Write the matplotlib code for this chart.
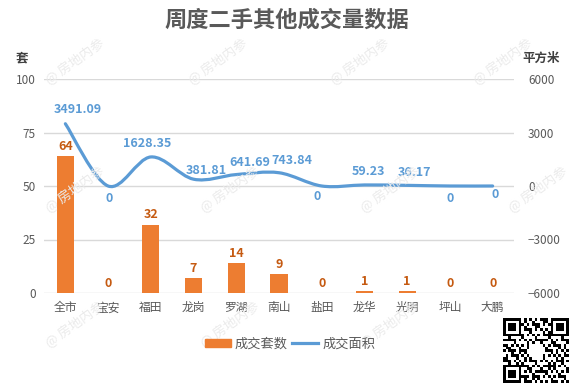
import numpy as np
import matplotlib
matplotlib.use('Agg')
import matplotlib.pyplot as plt
from matplotlib.path import Path
from matplotlib.patches import PathPatch, Patch
from matplotlib.lines import Line2D

plt.rcParams['font.family'] = ['Noto Sans CJK SC', 'DejaVu Sans']

# данные
districts = ['全市', '宝安', '福田', '龙岗', '罗湖', '南山', '盐田', '龙华', '光明', '坪山', '大鹏']
units = [64, 0, 32, 7, 14, 9, 0, 1, 1, 0, 0]
area = [3491.09, 0, 1628.35, 381.81, 641.69, 743.84, 0, 59.23, 36.17, 0, 0]
area_labels = ['3491.09', '0', '1628.35', '381.81', '641.69', '743.84', '0', '59.23', '36.17', '0', '0']
left_ticks = [0, 25, 50, 75, 100]
right_ticks = [-6000, -3000, 0, 3000, 6000]

# сдвиги подписей линии, px
lab_dx = [12, 1, -4, 13, 14, 13, -5, 4, 7, 0, 2]
lab_dy = [14, -12, 13, 9, 12, 12, -11, 13, 13, -12, -9]

orange = '#ED7D31'
blue = '#5B9BD5'
txt = '#595959'

fig = plt.figure(figsize=(5.73, 3.87), dpi=100)
fig.patch.set_facecolor('white')

# водяные знаки
wm = [(75, 62), (218, 62), (360, 62), (503, 62),
      (75, 190), (230, 190), (390, 190), (538, 190),
      (75, 325), (230, 325), (390, 325)]
for x, y in wm:
    fig.text(x / 573, 1 - y / 387, '@ 房地内参', rotation=35, fontsize=9.5,
             color='#EBEBEB', ha='center', va='center', zorder=0)

ax = fig.add_axes([44 / 573, 94 / 387, 470 / 573, 214 / 387])
ax.patch.set_alpha(0)
x = np.arange(len(districts))
ax.bar(x, units, width=0.4, color=orange, zorder=3)
for i, v in enumerate(units):
    ax.annotate(str(v), (x[i], v), xytext=(0, 7), textcoords='offset points',
                ha='center', va='center', fontsize=9, fontweight='bold', color='#C55A11')

ax.set_xlim(-0.5, len(districts) - 0.5)
ax.set_ylim(0, 100)
ax.set_yticks(left_ticks)
ax.set_xticks(x)
ax.set_xticklabels(districts)
ax.grid(axis='y', color='#D9D9D9', linewidth=1, zorder=0)
for s in ax.spines.values():
    s.set_visible(False)
ax.tick_params(length=0, labelsize=8.5, colors=txt, pad=6)

ax2 = ax.twinx()
ax2.set_ylim(-6000, 6000)
ax2.set_yticks(right_ticks)
for s in ax2.spines.values():
    s.set_visible(False)
ax2.tick_params(length=0, labelsize=8.5, colors=txt, pad=10)

# сглаженная линия (Catmull-Rom -> Bezier)
pts = np.column_stack([x, area]).astype(float)
n = len(pts)
verts = [pts[0]]
codes = [Path.MOVETO]
for i in range(n - 1):
    p0 = pts[max(i - 1, 0)]
    p1 = pts[i]
    p2 = pts[i + 1]
    p3 = pts[min(i + 2, n - 1)]
    verts += [p1 + (p2 - p0) / 6, p2 - (p3 - p1) / 6, p2]
    codes += [Path.CURVE4] * 3
ax2.add_patch(PathPatch(Path(verts, codes), facecolor='none', edgecolor=blue,
                        linewidth=2.3, zorder=4, capstyle='round'))
for i in range(n):
    ax2.annotate(area_labels[i], (x[i], area[i]),
                 xytext=(lab_dx[i] * 0.72, lab_dy[i] * 0.72), textcoords='offset points',
                 ha='center', va='center', fontsize=9, fontweight='bold', color=blue)

fig.text(0.5, 1 - 20 / 387, '周度二手其他成交量数据', ha='center', va='center',
         fontsize=16, fontweight='bold', color='#595959')
fig.text(22 / 573, 1 - 58 / 387, '套', ha='center', va='center', fontsize=9,
         fontweight='bold', color='#404040')
fig.text(541 / 573, 1 - 58 / 387, '平方米', ha='center', va='center', fontsize=9,
         fontweight='bold', color='#404040')

handles = [Patch(color=orange), Line2D([], [], color=blue, linewidth=2.3)]
fig.legend(handles, ['成交套数', '成交面积'], loc='center', bbox_to_anchor=(0.506, 1 - 344 / 387),
           ncol=2, frameon=False, fontsize=9.5, labelcolor=txt, handlelength=2.0,
           handleheight=0.6, handletextpad=0.3, columnspacing=0.3)

# QR-заглушка
qa = fig.add_axes([503 / 573, 4 / 387, 65 / 573, 66 / 387])
k = 25
ii, jj = np.indices((k, k))
qr = (((ii * 7 + jj * 3) % 5 == 0) | ((ii * jj) % 7 == 1) | ((ii + 2 * jj) % 4 == 0)).astype(float)
for r0, c0 in [(0, 0), (0, k - 7), (k - 7, 0)]:
    qr[r0:r0 + 7, c0:c0 + 7] = 1
    qr[r0 + 1:r0 + 6, c0 + 1:c0 + 6] = 0
    qr[r0 + 2:r0 + 5, c0 + 2:c0 + 5] = 1
qr[10:15, 10:15] = 0
qa.imshow(qr, cmap='gray_r', interpolation='nearest')
qa.axis('off')

fig.savefig('out.png', dpi=100)
